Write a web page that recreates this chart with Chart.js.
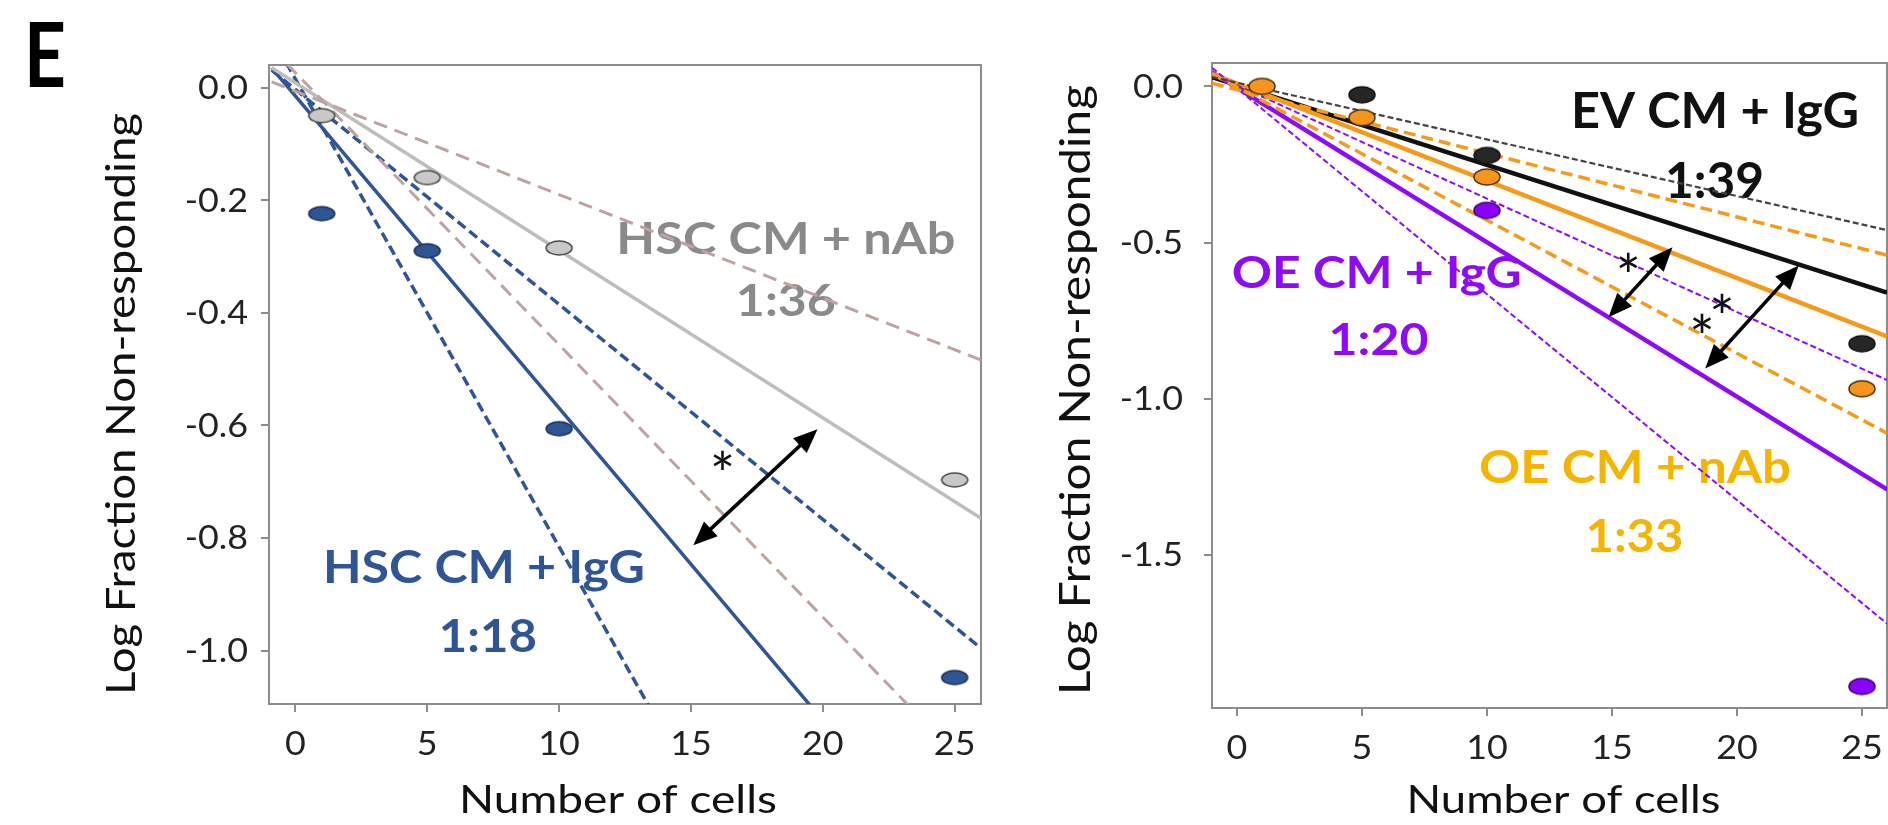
<!DOCTYPE html>
<html>
<head>
<meta charset="utf-8">
<script src="https://cdn.jsdelivr.net/npm/chart.js@4.4.0/dist/chart.umd.min.js"></script>
<style>
    html, body { margin: 0; padding: 0; background: #fff; overflow: hidden; width: 1888px; height: 825px; }
    canvas { position: absolute; top: 0; }
    #leftChart { left: 0; }
    #rightChart { left: 1000px; }
</style>
</head>
<body>
<canvas id="leftChart" width="1000" height="825"></canvas>
<canvas id="rightChart" width="900" height="825"></canvas>
<script>
// ticks
const xTicks = [0, 5, 10, 15, 20, 25];
const leftYTicks = [0, -0.2, -0.4, -0.6, -0.8, -1.0];
const rightYTicks = [0, -0.5, -1.0, -1.5];

// Left panel: HSC CM, measured points
const cellsL = [1, 5, 10, 25];
const hscNab = [-0.05, -0.16, -0.285, -0.697];
const hscIgg = [-0.224, -0.29, -0.606, -1.048];

// Left panel fits and confidence bounds (start, end)
const hscNabFitX = [-0.9, 26],    hscNabFitY = [0.035, -0.765];
const hscNabHiX = [-0.9, 26],     hscNabHiY = [0.01, -0.484];
const hscNabLoX = [-0.9, 23.3],   hscNabLoY = [0.07, -1.1];
const hscIggFitX = [-0.9, 19.57], hscIggFitY = [0.035, -1.1];
const hscIggHiX = [-0.9, 26],     hscIggHiY = [0.031, -0.996];
const hscIggLoX = [-0.9, 13.42],  hscIggLoY = [0.09, -1.1];

// Right panel: OE / EV CM, measured points
const cellsOeNab = [1, 5, 10, 25];
const oeNab = [0.0, -0.10, -0.29, -0.968];
const cellsEv = [5, 10, 25];
const evIgg = [-0.027, -0.221, -0.824];
const cellsOeIgg = [10, 25];
const oeIgg = [-0.397, -1.921];

// Right panel fits and confidence bounds (start, end)
const lineXR = [-1, 26];
const evFitY = [0.03, -0.66],  evHiY = [0.03, -0.46];
const nabFitY = [0.04, -0.80], nabHiY = [0.01, -0.54], nabLoY = [0.04, -1.11];
const iggFitY = [0.045, -1.29], iggHiY = [0.04, -0.94], iggLoY = [0.06, -1.72];

// significance arrows (x1, y1, x2, y2) and stars
const arrowsL = [[15.09, -0.813, 19.8, -0.607]];
const starsL = [[16.2, -0.665]];
const arrowsR = [[14.86, -0.739, 17.42, -0.515], [18.73, -0.903, 22.47, -0.573]];
const starsR = [[15.65, -0.567], [19.4, -0.701], [18.6, -0.765]];

const AXIS_GREY = '#8c8c8c';

function seg(xs, ys) {
    return xs.map((x, i) => ({ x: x, y: ys[i] }));
}

// Ellipse markers (the figure is stretched horizontally)
function ellipseDot(fill, stroke, w, h) {
    const c = document.createElement('canvas');
    c.width = w + 4;
    c.height = h + 4;
    const g = c.getContext('2d');
    g.beginPath();
    g.ellipse(c.width / 2, c.height / 2, w / 2, h / 2, 0, 0, Math.PI * 2);
    g.fillStyle = fill;
    g.fill();
    g.lineWidth = 1.5;
    g.strokeStyle = stroke;
    g.stroke();
    return c;
}

function lineDs(xs, ys, color, width, dash) {
    return {
        data: seg(xs, ys),
        showLine: true,
        borderColor: color,
        borderWidth: width,
        borderDash: dash || [],
        pointRadius: 0,
        fill: false,
        order: 1
    };
}

function dotDs(xs, ys, img) {
    return {
        data: seg(xs, ys),
        showLine: false,
        pointStyle: img,
        pointRadius: 12,
        order: 0
    };
}

function drawText(ctx, text, x, y, o) {
    ctx.save();
    ctx.font = o.font;
    ctx.fillStyle = o.color || '#222';
    ctx.textAlign = o.align || 'center';
    ctx.textBaseline = 'alphabetic';
    let sx = o.sx || 1;
    if (o.w) sx = o.w / ctx.measureText(text).width;
    ctx.translate(x, y);
    if (o.rotate) ctx.rotate(o.rotate);
    ctx.scale(sx, 1);
    ctx.fillText(text, 0, 0);
    ctx.restore();
}

function drawArrow(ctx, x1, y1, x2, y2) {
    const ang = Math.atan2(y2 - y1, x2 - x1);
    const L = 24, W = 10;
    ctx.save();
    ctx.strokeStyle = '#000';
    ctx.fillStyle = '#000';
    ctx.lineWidth = 3.5;
    ctx.beginPath();
    ctx.moveTo(x1 + Math.cos(ang) * L * 0.8, y1 + Math.sin(ang) * L * 0.8);
    ctx.lineTo(x2 - Math.cos(ang) * L * 0.8, y2 - Math.sin(ang) * L * 0.8);
    ctx.stroke();
    [[x1, y1, ang + Math.PI], [x2, y2, ang]].forEach(([tx, ty, a]) => {
        ctx.beginPath();
        ctx.moveTo(tx, ty);
        ctx.lineTo(tx - L * Math.cos(a) + W * Math.sin(a), ty - L * Math.sin(a) - W * Math.cos(a));
        ctx.lineTo(tx - L * Math.cos(a) - W * Math.sin(a), ty - L * Math.sin(a) + W * Math.cos(a));
        ctx.closePath();
        ctx.fill();
    });
    ctx.restore();
}

// Draws box, labels, arrows, tick labels and titles for one panel
function overlay(cfg) {
    return {
        id: 'overlay_' + cfg.name,
        beforeDatasetsDraw(chart) {
            const { ctx, chartArea: a } = chart;
            const x = chart.scales.x, y = chart.scales.y;
            ctx.save();
            ctx.strokeStyle = AXIS_GREY;
            ctx.lineWidth = 2;
            ctx.beginPath();
            ctx.moveTo(a.left, a.top);
            ctx.lineTo(a.right, a.top);
            ctx.lineTo(a.right, a.bottom);
            ctx.stroke();
            ctx.restore();
            cfg.labels.forEach(l => {
                drawText(ctx, l.text, x.getPixelForValue(l.x), y.getPixelForValue(l.y) + 0.36 * l.size,
                    { font: 'bold ' + l.size + 'px Lato', color: l.color, w: l.w });
            });
        },
        afterDatasetsDraw(chart) {
            const { ctx } = chart;
            const x = chart.scales.x, y = chart.scales.y;
            cfg.arrows.forEach(r => drawArrow(ctx, x.getPixelForValue(r[0]), y.getPixelForValue(r[1]),
                x.getPixelForValue(r[2]), y.getPixelForValue(r[3])));
            cfg.stars.forEach(s => drawText(ctx, '*', x.getPixelForValue(s[0]), y.getPixelForValue(s[1]) + 34,
                { font: '60px Lato', color: '#111' }));
        },
        afterDraw(chart) {
            const { ctx, chartArea: a } = chart;
            const x = chart.scales.x, y = chart.scales.y;
            const tickFont = { font: '32px Lato', color: '#222', sx: 1.12 };
            xTicks.forEach(v => drawText(ctx, String(v), x.getPixelForValue(v), a.bottom + 51,
                Object.assign({ align: 'center' }, tickFont)));
            cfg.yTicks.forEach(v => drawText(ctx, v.toFixed(1), a.left - cfg.yGap, y.getPixelForValue(v) + 11.5,
                Object.assign({ align: 'right' }, tickFont)));
            const t = cfg.xTitle;
            drawText(ctx, 'Number of cells', t.x, t.y, { font: t.size + 'px Lato', color: '#111', w: t.w });
            const u = cfg.yTitle;
            drawText(ctx, 'Log Fraction Non-responding', u.x, u.y,
                { font: u.size + 'px Lato', color: '#111', w: u.w, rotate: -Math.PI / 2 });
            if (cfg.panelLetter) {
                drawText(ctx, 'E', 24, 87, { font: 'bold 89px Lato', color: '#000', align: 'left', w: 42 });
            }
        }
    };
}

function makeChart(id, datasets, cfg) {
    const ctx = document.getElementById(id).getContext('2d');
    return new Chart(ctx, {
        type: 'scatter',
        data: { datasets: datasets },
        options: {
            responsive: false,
            animation: false,
            events: [],
            layout: { padding: cfg.padding },
            plugins: { legend: { display: false }, tooltip: { enabled: false } },
            scales: {
                x: {
                    type: 'linear',
                    min: -1,
                    max: 26,
                    afterBuildTicks: s => { s.ticks = xTicks.map(v => ({ value: v })); },
                    afterFit: s => { s.height = cfg.xHeight; },
                    ticks: { display: false },
                    grid: { drawOnChartArea: false, drawTicks: true, tickLength: 8, color: AXIS_GREY, lineWidth: 2 },
                    border: { color: AXIS_GREY, width: 2 }
                },
                y: {
                    type: 'linear',
                    min: cfg.yMin,
                    max: cfg.yMax,
                    afterBuildTicks: s => { s.ticks = cfg.yTicks.map(v => ({ value: v })); },
                    afterFit: s => { s.width = cfg.yWidth; },
                    ticks: { display: false },
                    grid: { drawOnChartArea: false, drawTicks: true, tickLength: 8, color: AXIS_GREY, lineWidth: 2 },
                    border: { color: AXIS_GREY, width: 2 }
                }
            }
        },
        plugins: [overlay(cfg)]
    });
}

// colours
const BLUE = '#2f5597', GREY_LINE = '#bdbdbd', ROSY = '#bfa2a2';
const ORANGE = '#f59a1a', PURPLE = '#8d0cf5', BLACK = '#111111';

const leftDatasets = [
    dotDs(cellsL, hscNab, ellipseDot('#c8c8c8', '#4a4a4a', 26, 14)),
    dotDs(cellsL, hscIgg, ellipseDot(BLUE, '#1b2f57', 26, 14)),
    lineDs(hscNabHiX, hscNabHiY, ROSY, 3, [14, 8]),
    lineDs(hscNabLoX, hscNabLoY, ROSY, 3, [14, 8]),
    lineDs(hscNabFitX, hscNabFitY, GREY_LINE, 3.5),
    lineDs(hscIggHiX, hscIggHiY, BLUE, 3.5, [10, 5]),
    lineDs(hscIggLoX, hscIggLoY, BLUE, 3.5, [10, 5]),
    lineDs(hscIggFitX, hscIggFitY, BLUE, 3.5)
];

const rightDatasets = [
    dotDs(cellsEv, evIgg, ellipseDot('#262626', '#111', 26, 16)),
    dotDs(cellsOeNab, oeNab, ellipseDot('#f7941d', '#4a3000', 26, 16)),
    dotDs(cellsOeIgg, oeIgg, ellipseDot('#8a00ff', '#3a0070', 26, 16)),
    lineDs(lineXR, evHiY, '#444', 2.2, [6, 3]),
    lineDs(lineXR, nabHiY, ORANGE, 3.5, [12, 6]),
    lineDs(lineXR, nabLoY, ORANGE, 3.5, [12, 6]),
    lineDs(lineXR, iggHiY, PURPLE, 2, [6, 3]),
    lineDs(lineXR, iggLoY, PURPLE, 2, [6, 3]),
    lineDs(lineXR, nabFitY, ORANGE, 4.5),
    lineDs(lineXR, iggFitY, PURPLE, 4.5),
    lineDs(lineXR, evFitY, BLACK, 4.5)
];

makeChart('leftChart', leftDatasets, {
    name: 'left',
    padding: { top: 65, right: 19, left: 0, bottom: 0 },
    yWidth: 269, xHeight: 121,
    yMin: -1.095, yMax: 0.04, yTicks: leftYTicks, yGap: 21,
    labels: [
        { text: 'HSC CM + nAb', x: 18.6, y: -0.268, size: 44, color: '#8a8a8a', w: 339 },
        { text: '1:36', x: 18.6, y: -0.378, size: 44, color: '#8a8a8a', w: 100 },
        { text: 'HSC CM + IgG', x: 7.15, y: -0.851, size: 46, color: BLUE, w: 322 },
        { text: '1:18', x: 7.3, y: -0.973, size: 46, color: BLUE, w: 98 }
    ],
    arrows: arrowsL, stars: starsL,
    xTitle: { x: 618, y: 813, size: 38, w: 318 },
    yTitle: { x: 135, y: 404, size: 40, w: 582 },
    panelLetter: true
});

makeChart('rightChart', rightDatasets, {
    name: 'right',
    padding: { top: 63, right: 5, left: 0, bottom: 0 },
    yWidth: 212, xHeight: 117,
    yMin: -1.99, yMax: 0.075, yTicks: rightYTicks, yGap: 29,
    labels: [
        { text: 'EV CM + IgG', x: 19.12, y: -0.077, size: 50, color: BLACK, w: 288 },
        { text: '1:39', x: 19.1, y: -0.301, size: 50, color: BLACK, w: 99 },
        { text: 'OE CM + IgG', x: 5.59, y: -0.596, size: 44, color: PURPLE, w: 290 },
        { text: '1:20', x: 5.66, y: -0.81, size: 44, color: PURPLE, w: 100 },
        { text: 'OE CM + nAb', x: 15.92, y: -1.217, size: 46, color: '#f5b400', w: 312 },
        { text: '1:33', x: 15.9, y: -1.438, size: 46, color: '#f5b400', w: 98 }
    ],
    arrows: arrowsR, stars: starsR,
    xTitle: { x: 563.5, y: 813, size: 38, w: 314 },
    yTitle: { x: 90, y: 390, size: 42, w: 610 },
    panelLetter: false
});
</script>
</body>
</html>
